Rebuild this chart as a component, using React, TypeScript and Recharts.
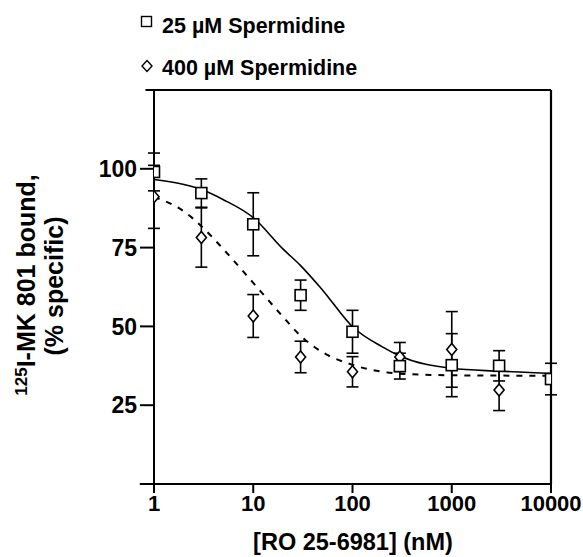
import React from 'react';
import {
  ComposedChart,
  Line,
  Scatter,
  XAxis,
  YAxis,
  ErrorBar,
  ReferenceLine,
  Legend,
} from 'recharts';

// ---- data ----
const conc25 = [1, 3, 10, 30, 100, 300, 1000, 3000, 10000];
const bound25 = [99, 92.3, 82.4, 59.9, 48.3, 37.4, 37.7, 37.5, 33.3];
const err25 = [6, 4.5, 10, 4.8, 6.8, 4.1, 10, 4.8, 5];

const conc400 = [1, 3, 10, 30, 100, 300, 1000, 3000];
const bound400 = [91.1, 78.2, 53.3, 40.3, 35.6, 40.3, 42.7, 29.8];
const err400 = [10, 9.4, 6.8, 5, 4.8, 4.6, 12, 6.5];

const fitConc = [1, 2, 3, 5, 10, 20, 30, 50, 100, 200, 300, 1000, 3000, 10000];
const fit25 = [96.6, 95.0, 93.4, 90.2, 84.5, 74.5, 69.3, 61.5, 49.9, 43.5, 40.6, 36.7, 35.8, 35.1];
const fit400 = [91.1, 86.5, 81.8, 74.5, 63.8, 53.0, 47.0, 41.8, 37.8, 35.6, 35.0, 34.5, 34.4, 34.3];

const xTicks = [1, 10, 100, 1000, 10000];
const yTicks = [25, 50, 75, 100];
const xDomain = [1, 10000];
const yDomain = [0, 125];
const legendLabels = ['25 \u00B5M Spermidine', '400 \u00B5M Spermidine'];
const xTitle = '[RO 25-6981] (nM)';
const yTitleSup = '125';
const yTitleMain = 'I-MK 801 bound,';
const yTitleLine2 = '(% specific)';

// ---- derived tables ----
const pts25 = conc25.map((x, i) => ({ x, y: bound25[i], err: err25[i] }));
const pts400 = conc400.map((x, i) => ({ x, y: bound400[i], err: err400[i] }));
const curve25 = fitConc.map((x, i) => ({ x, y: fit25[i] }));
const curve400 = fitConc.map((x, i) => ({ x, y: fit400[i] }));

const FONT = "'Liberation Sans', Arial, Helvetica, sans-serif";

const Square = (props: any) => {
  const { cx, cy } = props;
  if (cx == null || cy == null) return null;
  return (
    <rect x={cx - 5.5} y={cy - 5.5} width={11} height={11} fill="#fff" stroke="#000" strokeWidth={1.6} />
  );
};

const Diamond = (props: any) => {
  const { cx, cy } = props;
  if (cx == null || cy == null) return null;
  return (
    <path
      d={`M${cx},${cy - 6} L${cx + 5},${cy} L${cx},${cy + 6} L${cx - 5},${cy} Z`}
      fill="#fff"
      stroke="#000"
      strokeWidth={1.6}
    />
  );
};

const renderLegend = () => (
  <svg width={583} height={85} style={{ display: 'block' }}>
    <rect x={141.5} y={16.5} width={10} height={10} fill="#fff" stroke="#000" strokeWidth={1.4} />
    <text x={162} y={33} fontFamily={FONT} fontWeight="bold" fontSize={21.5} fill="#000">
      {legendLabels[0]}
    </text>
    <path d="M147,60.5 L152,66 L147,71.5 L142,66 Z" fill="#fff" stroke="#000" strokeWidth={1.4} />
    <text x={162} y={75} fontFamily={FONT} fontWeight="bold" fontSize={21.5} fill="#000">
      {legendLabels[1]}
    </text>
  </svg>
);

const renderYTitle = () => (
  <g>
    <text
      transform="translate(35,285) rotate(-90)"
      textAnchor="middle"
      fontFamily={FONT}
      fontWeight="bold"
      fill="#000"
    >
      <tspan fontSize={17} dy={-8}>
        {yTitleSup}
      </tspan>
      <tspan fontSize={25} dy={8}>
        {yTitleMain}
      </tspan>
    </text>
    <text
      transform="translate(63,286) rotate(-90)"
      textAnchor="middle"
      fontFamily={FONT}
      fontWeight="bold"
      fontSize={25}
      fill="#000"
    >
      {yTitleLine2}
    </text>
  </g>
);

const renderXTitle = () => (
  <text x={353} y={550} textAnchor="middle" fontFamily={FONT} fontWeight="bold" fontSize={23.5} fill="#000">
    {xTitle}
  </text>
);

export default function App() {
  return (
    <div style={{ position: 'absolute', left: 0, top: 0, width: 583, height: 557, background: '#fff' }}>
      <ComposedChart
        width={583}
        height={557}
        margin={{ top: 90, right: 31, bottom: 33, left: 0 }}
      >
        <XAxis
          dataKey="x"
          type="number"
          scale="log"
          domain={xDomain}
          ticks={xTicks}
          allowDataOverflow
          height={40}
          axisLine={false}
          tickSize={9}
          tickMargin={2}
          tickLine={{ stroke: '#000', strokeWidth: 2 }}
          tick={{ fill: '#000', fontSize: 22, fontWeight: 'bold', fontFamily: FONT }}
          label={renderXTitle}
        />
        <YAxis
          dataKey="y"
          type="number"
          domain={yDomain}
          ticks={yTicks}
          allowDataOverflow
          width={154}
          axisLine={{ stroke: '#000', strokeWidth: 2 }}
          tickSize={14}
          tickMargin={3}
          tickLine={{ stroke: '#000', strokeWidth: 2 }}
          tick={{ fill: '#000', fontSize: 23, fontWeight: 'bold', fontFamily: FONT }}
          label={renderYTitle}
        />
        <YAxis
          yAxisId="frame"
          orientation="right"
          type="number"
          domain={yDomain}
          width={1}
          tick={false}
          tickLine={false}
          axisLine={{ stroke: '#000', strokeWidth: 2.2 }}
        />
        <ReferenceLine
          segment={[{ x: 0.72, y: 0 }, { x: 10000, y: 0 }]}
          stroke="#000"
          strokeWidth={2}
          ifOverflow="visible"
        />
        <ReferenceLine
          segment={[{ x: 0.82, y: 125 }, { x: 10000, y: 125 }]}
          stroke="#000"
          strokeWidth={2}
          ifOverflow="visible"
        />
        <Line
          data={curve25}
          dataKey="y"
          type="monotone"
          stroke="#000"
          strokeWidth={1.6}
          dot={false}
          activeDot={false}
          isAnimationActive={false}
        />
        <Line
          data={curve400}
          dataKey="y"
          type="monotone"
          stroke="#000"
          strokeWidth={2}
          strokeDasharray="6 7"
          dot={false}
          activeDot={false}
          isAnimationActive={false}
        />
        <Scatter data={pts400} dataKey="y" shape={Diamond} isAnimationActive={false}>
          <ErrorBar dataKey="err" direction="y" width={6} stroke="#000" strokeWidth={1.6} />
        </Scatter>
        <Scatter data={pts25} dataKey="y" shape={Square} isAnimationActive={false}>
          <ErrorBar dataKey="err" direction="y" width={6} stroke="#000" strokeWidth={1.6} />
        </Scatter>
        <Legend
          layout="horizontal"
          verticalAlign="middle"
          align="center"
          content={renderLegend}
          wrapperStyle={{ top: 0, left: 0, width: 583, height: 85 }}
        />
      </ComposedChart>
    </div>
  );
}
